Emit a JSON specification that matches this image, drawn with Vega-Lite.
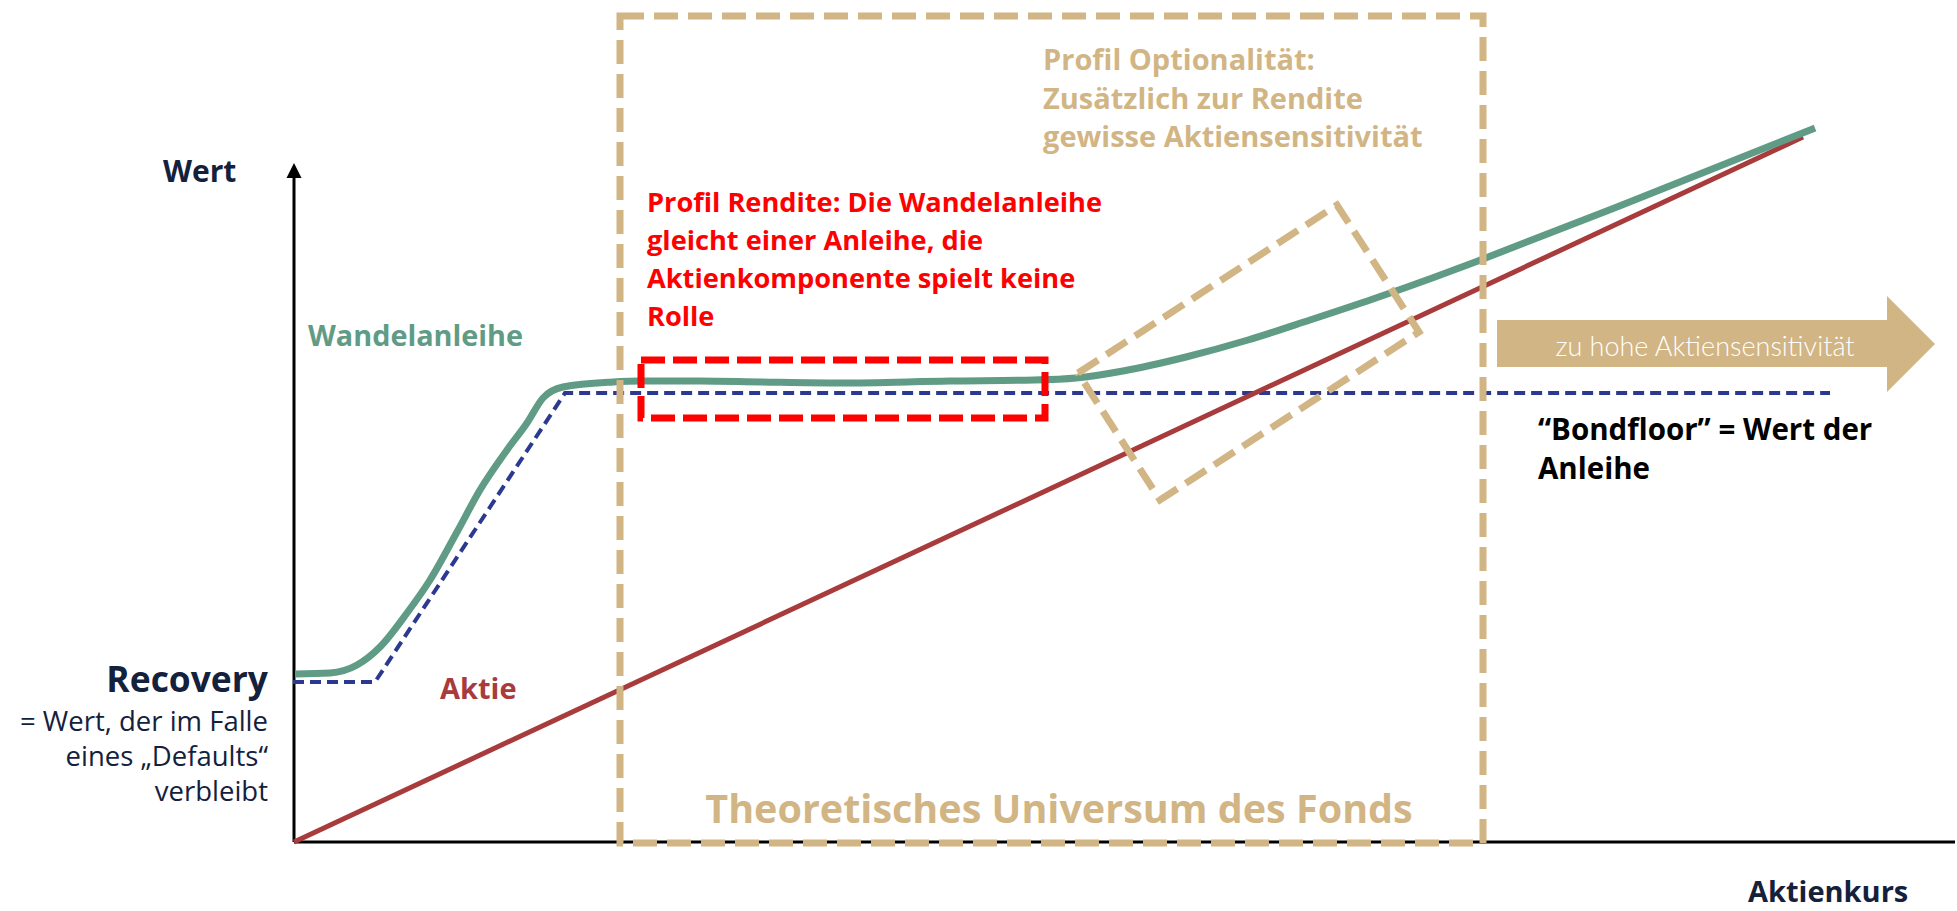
{
  "$schema": "https://vega.github.io/schema/vega-lite/v6.json",
  "width": 1957,
  "height": 911,
  "autosize": {"type": "fit", "contains": "padding"},
  "padding": 0,
  "background": "white",
  "config": {"view": {"stroke": null}, "text": {"font": "Open Sans"}},
  "encoding": {
    "x": {"field": "x", "type": "quantitative", "scale": {"domain": [-29.4, 166.3], "nice": false, "zero": false}, "axis": null},
    "y": {"field": "y", "type": "quantitative", "scale": {"domain": [-6.9, 84.2], "nice": false, "zero": false}, "axis": null}
  },
  "layer": [
    {
      "data": {"values": [{"x": 0, "y": 0, "x2": 166.1, "y2": 0}, {"x": 0, "y": 0, "x2": 0, "y2": 66.5}]},
      "mark": {"type": "rule", "color": "black", "strokeWidth": 3},
      "encoding": {"x2": {"field": "x2"}, "y2": {"field": "y2"}}
    },
    {
      "data": {"values": [{"x": 0, "y": 67.15}]},
      "mark": {"type": "point", "shape": "M0,-1L1,1L-1,1Z", "size": 225, "filled": true, "color": "black", "opacity": 1, "strokeWidth": 0}
    },
    {
      "data": {"values": [{"x": -0.1, "y": 16.0}, {"x": 8.1, "y": 16.0}, {"x": 27.1, "y": 44.9}, {"x": 153.6, "y": 44.9}]},
      "mark": {"type": "line", "color": "#2B3990", "strokeWidth": 4, "strokeDash": [11, 6]}
    },
    {
      "data": {"values": [{"x": 0, "y": 0}, {"x": 150.9, "y": 70.5}]},
      "mark": {"type": "line", "color": "#A83B3B", "strokeWidth": 5}
    },
    {
      "data": {"values": [
        {"x": 0.1, "y": 16.8}, {"x": 3.6, "y": 16.9}, {"x": 6.3, "y": 17.7}, {"x": 8.6, "y": 19.5},
        {"x": 11.3, "y": 22.9}, {"x": 13.6, "y": 26.2}, {"x": 16.3, "y": 31.0}, {"x": 18.6, "y": 35.2},
        {"x": 21.3, "y": 39.2}, {"x": 23.3, "y": 41.9}, {"x": 24.9, "y": 44.4}, {"x": 26.9, "y": 45.5},
        {"x": 31.9, "y": 46.0}, {"x": 34.6, "y": 46.1}, {"x": 40.6, "y": 46.1}, {"x": 46.6, "y": 46.0},
        {"x": 54.6, "y": 45.9}, {"x": 65.6, "y": 46.1}, {"x": 74.0, "y": 46.2}, {"x": 78.2, "y": 46.4},
        {"x": 82.9, "y": 47.1}, {"x": 89.2, "y": 48.5}, {"x": 95.4, "y": 50.2}, {"x": 101.6, "y": 52.2},
        {"x": 107.9, "y": 54.3}, {"x": 114.1, "y": 56.5}, {"x": 118.9, "y": 58.3}, {"x": 132.8, "y": 63.7},
        {"x": 152.1, "y": 71.4}
      ]},
      "mark": {"type": "line", "color": "#5F9B85", "strokeWidth": 7, "interpolate": "monotone"}
    },
    {
      "data": {"values": [{"x": 32.6, "x2": 118.9, "y": 82.6, "y2": -0.1}]},
      "mark": {"type": "rect", "fill": null, "fillOpacity": 0, "stroke": "#D2B584", "strokeWidth": 7, "strokeDash": [24, 10]},
      "encoding": {"x2": {"field": "x2"}, "y2": {"field": "y2"}}
    },
    {
      "data": {"values": [{"x": 34.7, "x2": 75.1, "y": 48.2, "y2": 42.4}]},
      "mark": {"type": "rect", "fill": null, "fillOpacity": 0, "stroke": "#FF0000", "strokeWidth": 7, "strokeDash": [24, 8]},
      "encoding": {"x2": {"field": "x2"}, "y2": {"field": "y2"}}
    },
    {
      "data": {"values": [
        {"x": 78.4, "y": 46.9, "i": 0}, {"x": 104.3, "y": 63.7, "i": 1}, {"x": 112.5, "y": 51.0, "i": 2},
        {"x": 86.6, "y": 34.2, "i": 3}, {"x": 78.4, "y": 46.9, "i": 4}
      ]},
      "mark": {"type": "line", "color": "#D2B584", "strokeWidth": 7, "strokeDash": [24, 10]},
      "encoding": {"order": {"field": "i", "type": "quantitative"}}
    },
    {
      "data": {"values": [{"x": 120.3, "x2": 159.3, "y": 52.2, "y2": 47.5}]},
      "mark": {"type": "rect", "color": "#D2B584"},
      "encoding": {"x2": {"field": "x2"}, "y2": {"field": "y2"}}
    },
    {
      "data": {"values": [{"x": 161.7, "y": 49.8}]},
      "mark": {"type": "point", "shape": "M-0.5,-1L0.5,0L-0.5,1Z", "size": 9216, "filled": true, "color": "#D2B584", "opacity": 1, "strokeWidth": 0}
    },
    {
      "data": {"values": [{"x": 141.1, "y": 48.6, "t": "zu hohe Aktiensensitivität"}]},
      "mark": {"type": "text", "align": "center", "baseline": "alphabetic", "fontSize": 27, "fontWeight": 300, "font": "Lato", "color": "white"},
      "encoding": {"text": {"field": "t"}}
    },
    {
      "data": {"values": [{"x": -13.1, "y": 66.0, "t": "Wert"}]},
      "mark": {"type": "text", "align": "left", "baseline": "alphabetic", "fontSize": 30, "fontWeight": "bold", "color": "#14213D"},
      "encoding": {"text": {"field": "t"}}
    },
    {
      "data": {"values": [{"x": 145.4, "y": -6.0, "t": "Aktienkurs"}]},
      "mark": {"type": "text", "align": "left", "baseline": "alphabetic", "fontSize": 29, "fontWeight": "bold", "color": "#14213D"},
      "encoding": {"text": {"field": "t"}}
    },
    {
      "data": {"values": [{"x": -2.6, "y": 15.0, "t": "Recovery"}]},
      "mark": {"type": "text", "align": "right", "baseline": "alphabetic", "fontSize": 35.4, "fontWeight": "bold", "color": "#14213D"},
      "encoding": {"text": {"field": "t"}}
    },
    {
      "data": {"values": [{"x": -2.6, "y": 11.1, "t": "= Wert, der im Falle\neines „Defaults“\nverbleibt"}]},
      "mark": {"type": "text", "align": "right", "baseline": "alphabetic", "fontSize": 27.5, "fontWeight": "normal", "color": "#14213D", "lineBreak": "\n", "lineHeight": 35},
      "encoding": {"text": {"field": "t"}}
    },
    {
      "data": {"values": [{"x": 1.4, "y": 49.6, "t": "Wandelanleihe"}]},
      "mark": {"type": "text", "align": "left", "baseline": "alphabetic", "fontSize": 28.8, "fontWeight": "bold", "color": "#5F9B85"},
      "encoding": {"text": {"field": "t"}}
    },
    {
      "data": {"values": [{"x": 14.6, "y": 14.3, "t": "Aktie"}]},
      "mark": {"type": "text", "align": "left", "baseline": "alphabetic", "fontSize": 29, "fontWeight": "bold", "color": "#A83B3B"},
      "encoding": {"text": {"field": "t"}}
    },
    {
      "data": {"values": [{"x": 35.3, "y": 63.0, "t": "Profil Rendite: Die Wandelanleihe\ngleicht einer Anleihe, die\nAktienkomponente spielt keine\nRolle"}]},
      "mark": {"type": "text", "align": "left", "baseline": "alphabetic", "fontSize": 27.2, "fontWeight": "bold", "color": "#FF0000", "lineBreak": "\n", "lineHeight": 38},
      "encoding": {"text": {"field": "t"}}
    },
    {
      "data": {"values": [{"x": 74.9, "y": 77.2, "t": "Profil Optionalität:\nZusätzlich zur Rendite\ngewisse Aktiensensitivität"}]},
      "mark": {"type": "text", "align": "left", "baseline": "alphabetic", "fontSize": 29, "fontWeight": "bold", "color": "#D2B584", "lineBreak": "\n", "lineHeight": 38.5},
      "encoding": {"text": {"field": "t"}}
    },
    {
      "data": {"values": [{"x": 76.5, "y": 1.9, "t": "Theoretisches Universum des Fonds"}]},
      "mark": {"type": "text", "align": "center", "baseline": "alphabetic", "fontSize": 39.5, "fontWeight": "bold", "color": "#D2B584"},
      "encoding": {"text": {"field": "t"}}
    },
    {
      "data": {"values": [{"x": 124.4, "y": 40.2, "t": "“Bondfloor” = Wert der\nAnleihe"}]},
      "mark": {"type": "text", "align": "left", "baseline": "alphabetic", "fontSize": 29.5, "fontWeight": "bold", "color": "black", "lineBreak": "\n", "lineHeight": 39},
      "encoding": {"text": {"field": "t"}}
    }
  ]
}
